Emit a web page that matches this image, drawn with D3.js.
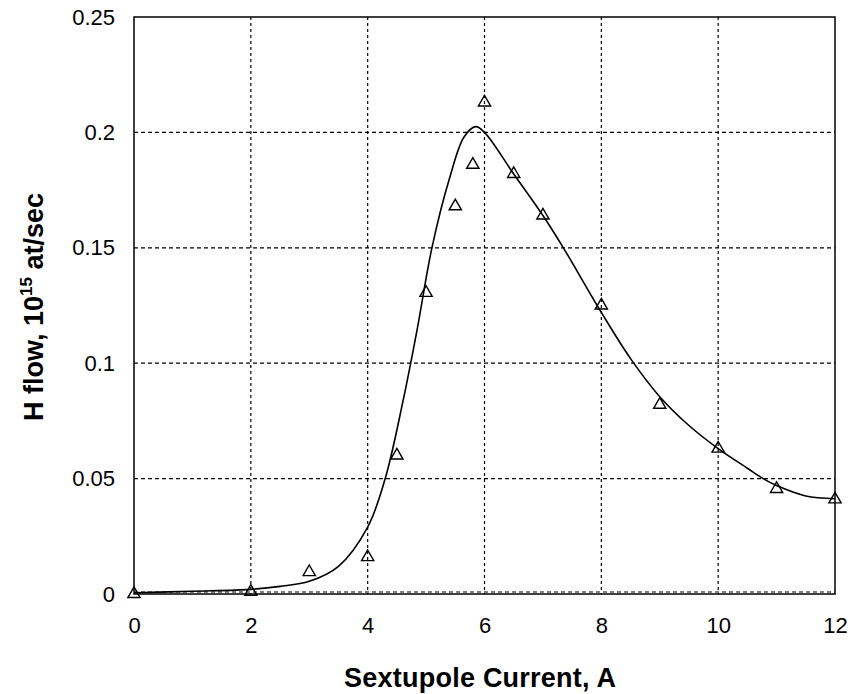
<!DOCTYPE html>
<html>
<head>
<meta charset="utf-8">
<script src="https://cdn.jsdelivr.net/npm/d3@7"></script>
<style>
  body { margin: 0; background: #fff; }
  text { font-family: "Liberation Sans", Arial, sans-serif; }
</style>
</head>
<body>
<div id="grafico"></div>
<script>
// measured points (triangles)
const current = [0, 2, 3, 4, 4.5, 5, 5.5, 5.8, 6, 6.5, 7, 8, 9, 10, 11, 12]
const flow = [0, 0.001, 0.0095, 0.016, 0.060, 0.1305, 0.168, 0.186, 0.213, 0.182, 0.164, 0.125, 0.082, 0.063, 0.0455, 0.041]

// fitted curve
const fitX = [0, 1, 2, 2.5, 3, 3.5, 4, 4.3, 4.6, 4.85, 5.1, 5.4, 5.65, 5.85, 6, 6.5, 7, 7.35, 8, 8.5, 9, 9.5, 10, 10.5, 10.77, 11, 11.5, 12]
const fitY = [0.0005, 0.0012, 0.002, 0.0033, 0.0055, 0.012, 0.029, 0.05, 0.083, 0.115, 0.15, 0.18, 0.198, 0.2025, 0.2, 0.182, 0.164, 0.15, 0.122, 0.102, 0.0855, 0.073, 0.063, 0.0545, 0.05, 0.047, 0.0425, 0.0413]

const xTicks = [0, 2, 4, 6, 8, 10, 12]
const yTicks = [0, 0.05, 0.1, 0.15, 0.2, 0.25]

const margin = {top: 17, right: 13, bottom: 100, left: 134},
  width = 835 - 134,
  height = 594 - 17

const svg = d3.select("#grafico")
  .append("svg")
    .attr("width", 848)
    .attr("height", 694)
  .append("g")
    .attr("transform", `translate(${margin.left},${margin.top})`)

const x = d3.scaleLinear().domain([0, 12]).range([0, width])
const y = d3.scaleLinear().domain([0, 0.25]).range([height, 0])

// grid
svg.append("g")
  .selectAll("line")
  .data(xTicks.slice(1, -1))
  .join("line")
    .attr("x1", d => x(d)).attr("x2", d => x(d))
    .attr("y1", 0).attr("y2", height)
    .attr("stroke", "#000").attr("stroke-width", 1.2)
    .attr("stroke-dasharray", "3,3")

svg.append("g")
  .selectAll("line")
  .data(yTicks.slice(0, -1))
  .join("line")
    .attr("x1", 0).attr("x2", width)
    .attr("y1", d => y(d) - (d === 0 ? 2 : 0)).attr("y2", d => y(d) - (d === 0 ? 2 : 0))
    .attr("stroke", "#000").attr("stroke-width", 1.2)
    .attr("stroke-dasharray", "4,3")

// frame
svg.append("rect")
  .attr("width", width).attr("height", height)
  .attr("fill", "none").attr("stroke", "#000").attr("stroke-width", 1.5)

// axes (labels only)
const xAxis = svg.append("g")
  .attr("transform", `translate(0,${height})`)
  .call(d3.axisBottom(x).tickValues(xTicks).tickSize(0).tickPadding(23).tickFormat(d3.format("d")))
xAxis.select(".domain").remove()
xAxis.selectAll("text").attr("font-size", "22px").attr("fill", "#000")

const yAxis = svg.append("g")
  .call(d3.axisLeft(y).tickValues(yTicks).tickSize(0).tickPadding(19).tickFormat(d => d === 0 ? "0" : String(+d.toFixed(2))))
yAxis.select(".domain").remove()
yAxis.selectAll("text").attr("font-size", "22px").attr("fill", "#000")

// fitted line
const line = d3.line()
  .x((d, i) => x(fitX[i]))
  .y(d => y(d))
  .curve(d3.curveCatmullRom.alpha(0.5))

svg.append("path")
  .datum(fitY)
  .attr("d", line)
  .attr("fill", "none")
  .attr("stroke", "#000")
  .attr("stroke-width", 1.6)

// triangles
svg.selectAll(".pt")
  .data(flow)
  .join("path")
    .attr("class", "pt")
    .attr("transform", (d, i) => `translate(${x(current[i])},${y(d)})`)
    .attr("d", d3.symbol(d3.symbolTriangle, 65))
    .attr("fill", "none")
    .attr("stroke", "#000")
    .attr("stroke-width", 1.4)

// titles
svg.append("text")
  .attr("x", 344 - 134)
  .attr("y", 687 - 17)
  .attr("font-size", "27px")
  .attr("font-weight", "bold")
  .attr("textLength", 272)
  .text("Sextupole Current, A")

const yt = svg.append("text")
  .attr("transform", `translate(-91,${307 - 17}) rotate(-90)`)
  .attr("text-anchor", "middle")
  .attr("font-size", "27px")
  .attr("font-weight", "bold")
yt.append("tspan").text("H flow, 10")
yt.append("tspan").attr("dy", -11).attr("font-size", "17px").text("15")
yt.append("tspan").attr("dy", 11).text(" at/sec")
</script>
</body>
</html>
